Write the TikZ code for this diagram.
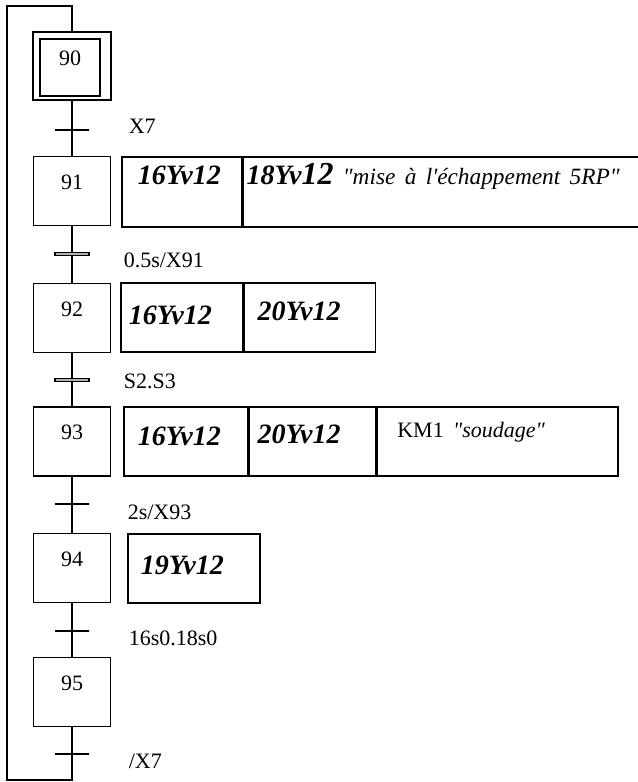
\documentclass[tikz,border=0pt]{standalone}
\usepackage{fontspec}
\setmainfont{Liberation Serif}
\usetikzlibrary{positioning}
\newcommand\numfont{\fontsize{16.5}{18}\selectfont}
\newcommand\actfont{\fontsize{21}{23}\selectfont\bfseries\itshape}
\newcommand\remfont{\fontsize{17.5}{19}\selectfont\mdseries\itshape}
\newcommand\qq{\textquotedbl}

\begin{document}
\begin{tikzpicture}[x=0.75pt, y=-0.75pt, line width=1.2pt,
    stepbox/.style={draw, line width=1.3pt, minimum width=57.75pt, minimum height=51.75pt,
      text height=13pt, text depth=15.3pt, font=\numfont},
    cell/.style n args={3}{draw, line width=1.3pt, inner ysep=0pt, text height=16pt,
      text width=#1, inner xsep=#2, text depth=#3, align=left, font=\actfont},
    trthin/.style={draw, line width=1.4pt, minimum width=25.5pt, minimum height=0pt, inner sep=0pt},
    trthick/.style={draw, fill=gray!60, line width=0.9pt, minimum width=25.5pt,
      minimum height=2.6pt, inner sep=0pt},
    trlabel/.style={anchor=base west, inner sep=0pt, font=\numfont}]
  \useasboundingbox (0,0) rectangle (638,782);

  % steps
  \node[draw, line width=1.3pt, minimum width=58.5pt, minimum height=51pt] (s90) at (72,66) {};
  \node[stepbox, minimum width=45pt, minimum height=42.75pt] (s90in) at (70,67.5) {90};
  \node[stepbox] (s91) at (72,191) {91};
  \node[stepbox] (s92) at (72,318) {92};
  \node[stepbox] (s93) at (72,441.5) {93};
  \node[stepbox] (s94) at (72,568) {94};
  \node[stepbox] (s95) at (72,692) {95};

  % actions
  \node[cell={66pt}{12pt}{27.3pt}, minimum height=52.5pt, anchor=west] (a91a) at (121,192) {16Yv12};
  \node[cell={292.5pt}{2.25pt}{27.3pt}, minimum height=52.5pt, right=0pt of a91a] (a91b)
    {18Yv{\fontsize{24}{25}\selectfont 12} {\remfont \qq mise à l\textquotesingle échappement 5RP\qq}};

  \node[cell={79.5pt}{6pt}{4.8pt}, minimum height=51.75pt, anchor=west] (a92a) at (120,317.5) {16Yv12};
  \node[cell={78.75pt}{9.75pt}{10.8pt}, minimum height=51.75pt, right=0pt of a92a] (a92b) {20Yv12};

  \node[cell={72pt}{10.5pt}{9.3pt}, minimum height=51.75pt, anchor=west] (a93a) at (123,441.5) {16Yv12};
  \node[cell={82.5pt}{6pt}{12.3pt}, minimum height=51.75pt, right=0pt of a93a] (a93b) {20Yv12};
  \node[cell={150.75pt}{15pt}{22.25pt}, minimum height=51.75pt, right=0pt of a93b] (a93c)
    {{\numfont\mdseries\upshape KM1 \textit{\qq soudage\qq}}};

  \node[cell={79.5pt}{9.75pt}{7.05pt}, minimum height=51.75pt, anchor=west] (a94) at (127,568.5) {19Yv12};

  % transitions
  \foreach \n/\y/\k/\bx/\by/\lab in {1/130/trthin/128/133/X7, 2/254/trthick/123/267/{0.5s/X91},
      3/380/trthick/123/388/S2.S3, 4/504/trthin/127/519/{2s/X93},
      5/631/trthin/128/645/16s0.18s0, 6/754/trthin/128/768/{/X7}}{
    \node[style=\k] (t\n) at (72,\y) {};
    \node[trlabel] (l\n) at (\bx,\by) {\lab};
  }

  \coordinate (c1) at (72,780);
  \coordinate (c2) at (7,780);
  \coordinate (c3) at (7,6);
  \coordinate (c4) at (72,6);

  \draw (s90) -- (t1) -- (s91) -- (t2) -- (s92) -- (t3) -- (s93) -- (t4) -- (s94)
    -- (t5) -- (s95) -- (t6) -- (c1) -- (c2) -- (c3) -- (c4) -- (s90);
\end{tikzpicture}
\end{document}
